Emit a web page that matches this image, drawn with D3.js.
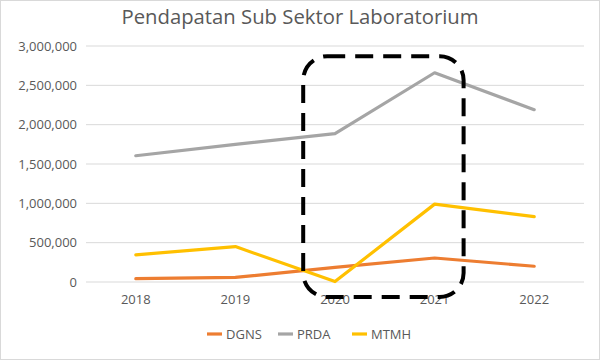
<!DOCTYPE html>
<html><head><meta charset="utf-8">
<script src="https://cdn.jsdelivr.net/npm/d3@7"></script>
<style>body{margin:0;background:#fff}svg{display:block}</style>
</head><body>
<script>
const categories = ["2018","2019","2020","2021","2022"];
const seriesNames = ["DGNS","PRDA","MTMH"];
const DGNS = [42000, 58000, 185000, 305000, 200000];
const PRDA = [1605000, 1750000, 1885000, 2660000, 2190000];
const MTMH = [345000, 450000, 5000, 990000, 830000];
const yTicks = [0, 500000, 1000000, 1500000, 2000000, 2500000, 3000000];
const colors = ["#ED7D31", "#A5A5A5", "#FFC000"];
const highlight = ["2020", "2021"];

const W = 600, H = 360;
const svg = d3.select("body").append("svg").attr("width", W).attr("height", H);
const font = "Open Sans, sans-serif";
svg.append("rect").attr("x",0.5).attr("y",0.5).attr("width",W-1).attr("height",H-1)
  .attr("fill","#fff").attr("stroke","#d9d9d9");

svg.append("text").attr("x",300).attr("y",24).attr("text-anchor","middle")
  .attr("font-family",font).attr("font-size",20.3).attr("fill","#595959")
  .text("Pendapatan Sub Sektor Laboratorium");

const x = d3.scaleBand().domain(categories).range([86, 584]);
const y = d3.scaleLinear().domain([0, 3000000]).range([282, 46]);

const grid = svg.append("g");
grid.selectAll("line").data(yTicks).join("line")
  .attr("x1",86).attr("x2",584).attr("y1",d=>y(d)).attr("y2",d=>y(d))
  .attr("stroke","#d9d9d9").attr("stroke-width",1);

const yAxis = svg.append("g").attr("transform","translate(77,0)")
  .call(d3.axisLeft(y).tickValues(yTicks).tickSize(0).tickPadding(0).tickFormat(d3.format(",")));
yAxis.select(".domain").remove();
yAxis.selectAll("text").attr("font-family",font).attr("font-size",13).attr("fill","#595959");

const xAxis = svg.append("g").attr("transform","translate(0,304)")
  .call(d3.axisBottom(x).tickSize(0).tickPadding(0));
xAxis.select(".domain").remove();
xAxis.selectAll("text").attr("font-family",font).attr("font-size",13).attr("fill","#595959").attr("dy","0");

const data = [DGNS, PRDA, MTMH];
const line = d3.line().x((d,i)=>x(categories[i]) + x.bandwidth()/2).y(d=>y(d));
svg.append("g").selectAll("path").data(data).join("path")
  .attr("d", line).attr("fill","none")
  .attr("stroke",(d,i)=>colors[i]).attr("stroke-width",3.2)
  .attr("stroke-linejoin","round").attr("stroke-linecap","round");

// dashed highlight box around 2020-2021
const bx0 = x(highlight[0]) + 18, bx1 = x(highlight[1]) + x.bandwidth()/2 + 29;
const by0 = y(2870000), by1 = 297;
svg.append("rect").attr("x",bx0).attr("y",by0).attr("width",bx1-bx0).attr("height",by1-by0)
  .attr("rx",24).attr("ry",24).attr("fill","none").attr("stroke","#000")
  .attr("stroke-width",4).attr("stroke-dasharray","18,10");

// legend
const lg = svg.append("g").attr("transform","translate(0,334)");
const lx = [207, 278, 352];
seriesNames.forEach((n,i)=>{
  lg.append("line").attr("x1",lx[i]).attr("x2",lx[i]+15).attr("y1",0).attr("y2",0)
    .attr("stroke",colors[i]).attr("stroke-width",3.2);
  lg.append("text").attr("x",lx[i]+19).attr("y",0).attr("dy","0.35em")
    .attr("font-family",font).attr("font-size",13).attr("fill","#595959").text(n);
});
</script>
</body></html>
